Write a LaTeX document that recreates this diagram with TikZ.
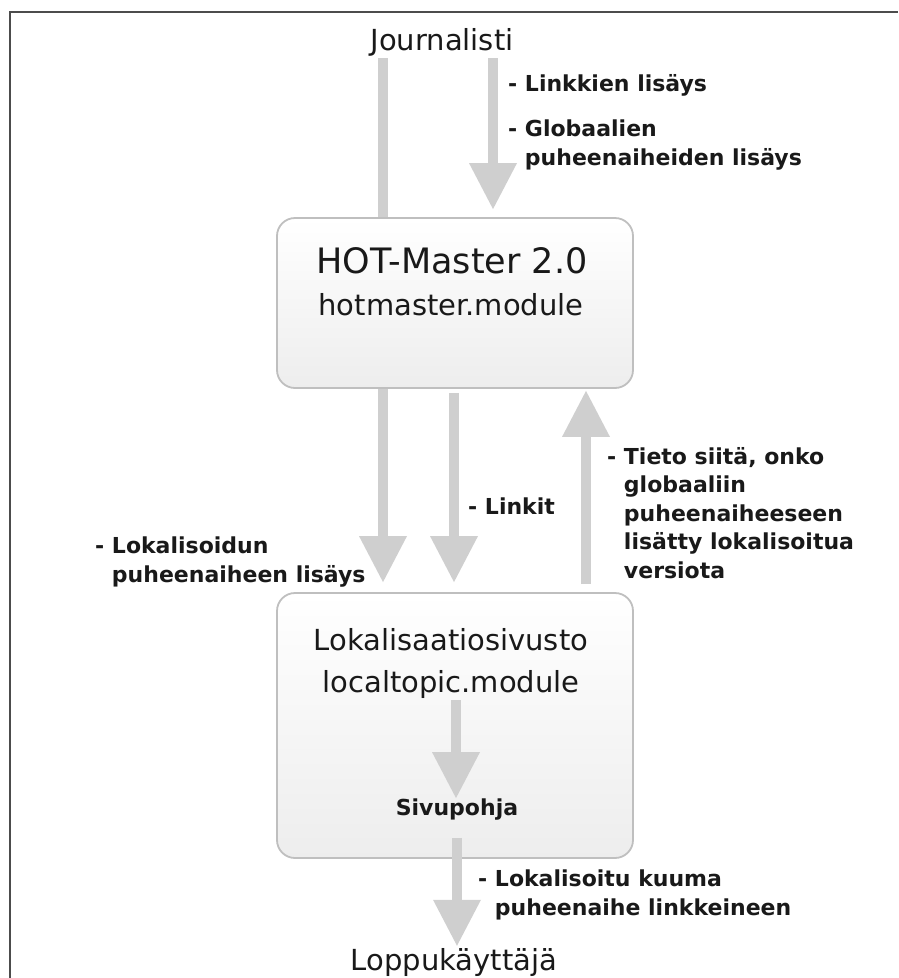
\documentclass[tikz,border=0pt]{standalone}
\usepackage{fontspec}
\setmainfont{DejaVu Sans}
\usetikzlibrary{arrows.meta}

\begin{document}
\begin{tikzpicture}[
    x=1pt, y=1pt,
    every node/.style={inner sep=2pt, text=black!90},
    big/.style={font=\fontsize{29}{34}\selectfont, anchor=base},
    title/.style={font=\fontsize{35}{40}\selectfont, anchor=base},
    modbox/.style={rectangle, rounded corners=18pt, draw=gray!50, line width=1.8pt,
        top color=white, bottom color=gray!14, minimum width=356pt},
    lab/.style={anchor=base west, align=left, inner sep=0pt,
        font=\fontsize{22}{29}\selectfont\bfseries},
    midlab/.style={lab, font=\fontsize{22}{28.5}\selectfont\bfseries},
    bar/.style={draw=gray!38, line width=10pt},
    fat/.style={bar, -{Triangle[width=48pt, length=46pt, line width=0pt]}},
    frame/.style={draw=black!70, line width=2.2pt},
]
    \useasboundingbox (0,0) rectangle (898,-978);
    \draw[frame] (10,-978) -- (10,-12) -- (898,-12);

    % Modules
    \node[modbox, minimum height=170pt] (hot)   at (455,-303)   {};
    \node[modbox, minimum height=265pt] (local) at (455,-725.5) {};

    % Texts
    \node[big]   (journ)    at (442,-50)  {Journalisti};
    \node[title] (hottitle) at (452,-273) {HOT-Master 2.0};
    \node[big]   (hotmod)   at (451,-315) {hotmaster.module};
    \node[big]   (loctitle) at (451,-650) {Lokalisaatiosivusto};
    \node[big]   (locmod)   at (451,-692) {localtopic.module};
    \node[lab, anchor=base] (sivu) at (457,-815) {Sivupohja};
    \node[big]   (loppu)    at (454,-970) {Loppukäyttäjä};

    % Labels (base = last line)
    \node[lab] (lnk)  at (508,-91)  {- Linkkien lisäys};
    \node[lab] (glob) at (508,-165) {- Globaalien\\\phantom{- }puheenaiheiden lisäys};
    \node[midlab] (linkit) at (468,-514) {- Linkit};
    \node[midlab] (tieto)  at (607,-578)
        {- Tieto siitä, onko\\\phantom{- }globaaliin\\\phantom{- }puheenaiheeseen\\
         \phantom{- }lisätty lokalisoitua\\\phantom{- }versiota};
    \node[midlab] (lokal) at (95,-582) {- Lokalisoidun\\\phantom{- }puheenaiheen lisäys};
    \node[lab] (kuuma) at (478,-915) {- Lokalisoitu kuuma\\\phantom{- }puheenaihe linkkeineen};

    % Arrow columns
    \coordinate (colA) at (383,0);
    \coordinate (colB) at (493,0);
    \coordinate (colL) at (454,0);
    \coordinate (colC) at (586,0);
    \coordinate (colD) at (456,0);
    \coordinate (colE) at (457,0);

    % Arrows
    \draw[bar] (journ.south -| colA) -- (hot.north -| colA);
    \draw[fat, shorten >=8pt] (journ.south -| colB) -- (hot.north -| colB);
    \draw[fat, shorten >=10pt] (hot.south -| colA) -- (local.north -| colA);
    \draw[fat, shorten <=4pt, shorten >=10pt] (hot.south -| colL) -- (local.north -| colL);
    \draw[fat, shorten <=8pt, shorten >=2pt] (local.north -| colC) -- (hot.south -| colC);
    \draw[fat] (locmod.south -| colD) -- (sivu.north -| colD);
    \draw[fat, shorten <=-21pt] (local.south -| colE) -- (loppu.north -| colE);
\end{tikzpicture}
\end{document}
